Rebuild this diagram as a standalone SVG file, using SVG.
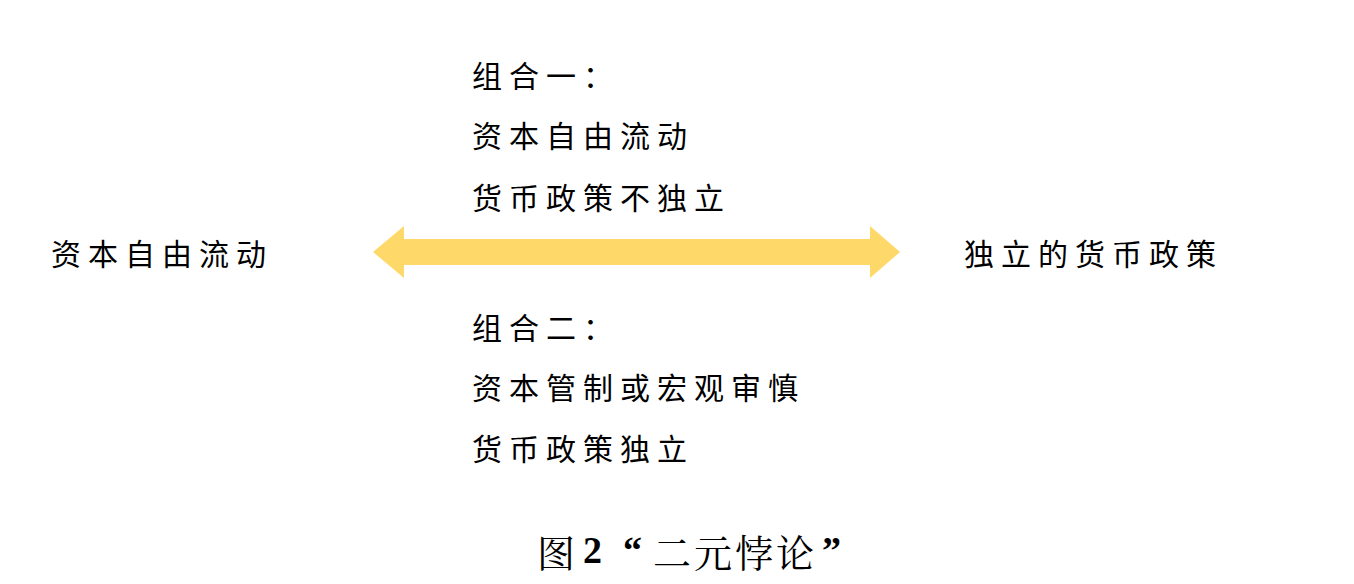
<svg xmlns="http://www.w3.org/2000/svg" width="1354" height="584" viewBox="0 0 1354 584">
<style>
.t{font-family:"Noto Sans CJK SC","Noto Sans CJK TC",sans-serif;font-size:30px;fill:#000;letter-spacing:7px;dominant-baseline:central}
.cap{font-family:"Noto Serif CJK SC","Noto Sans CJK SC",serif;font-size:38px;fill:#000;dominant-baseline:central}
.b{font-family:"Liberation Serif",serif;font-weight:bold}
</style>
<rect width="1354" height="584" fill="#fff"/>
<g id="connectors">
<path id="arrow" d="M373,252 L404,226 L404,239 L870,239 L870,226 L900,252 L870,278 L870,265 L404,265 L404,278 Z" fill="#FED96A"/>
</g>
<g id="node-left"><text class="t" x="51" y="252">资本自由流动</text></g>
<g id="node-right"><text class="t" x="964" y="252">独立的货币政策</text></g>
<g id="node-combo1">
<text class="t" x="472" y="74">组合一：</text>
<text class="t" x="472" y="134">资本自由流动</text>
<text class="t" x="472" y="196">货币政策不独立</text>
</g>
<g id="node-combo2">
<text class="t" x="472" y="326">组合二：</text>
<text class="t" x="472" y="386">资本管制或宏观审慎</text>
<text class="t" x="472" y="447">货币政策独立</text>
</g>
<g id="caption">
<text class="cap" x="537" y="550">图<tspan class="b" x="583">2</tspan><tspan class="b" x="623">“</tspan><tspan x="653" letter-spacing="3">二元悖论</tspan><tspan class="b" x="822">”</tspan></text>
</g>
</svg>
